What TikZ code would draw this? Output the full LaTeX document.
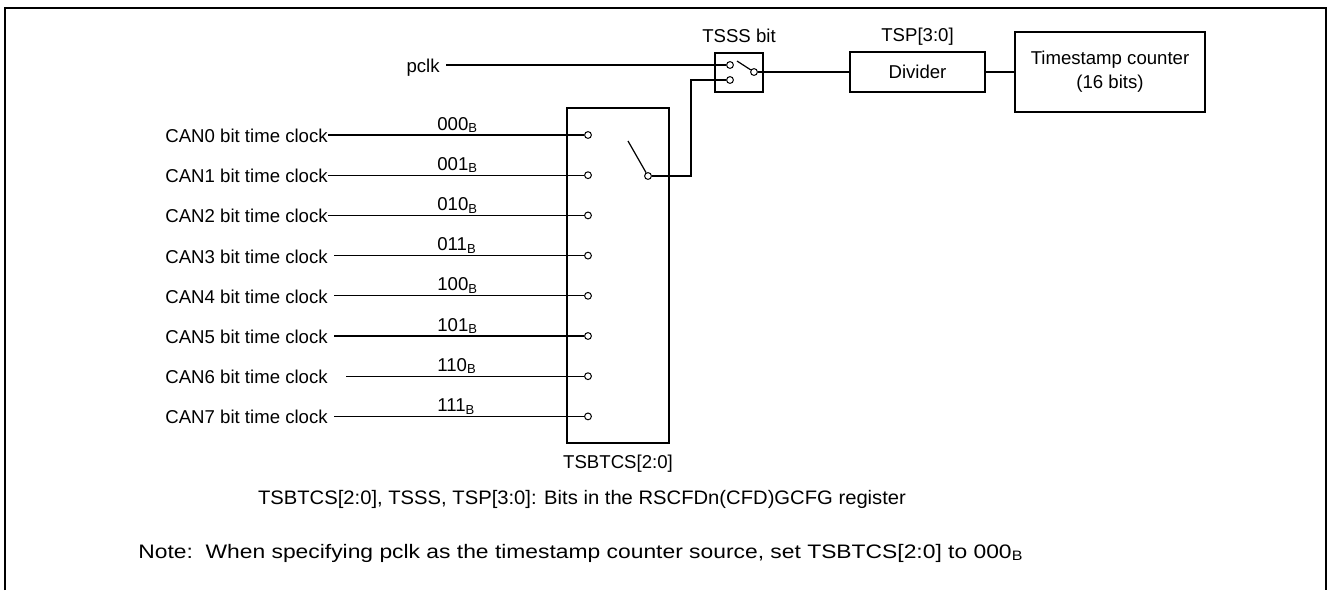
\documentclass[tikz,border=0pt]{standalone}
\usepackage{fontspec}
\setmainfont{Liberation Sans}
\usetikzlibrary{positioning}

\tikzset{
  blk/.style={draw, line width=1pt, inner sep=0pt, align=center},
  port/.style={circle, draw, line width=0.5pt, inner sep=0pt, minimum size=3.4pt, fill=white},
  wire/.style={line width=0.6pt},
  lbl/.style={inner sep=0pt},
}

\begin{document}
\begin{tikzpicture}[x=0.5pt,y=-0.5pt,font=\fontsize{9.3}{12}\selectfont]

    \useasboundingbox (0,0) rectangle (1328,590);

    % outer frame (open at the bottom)
    \draw[line width=1.3pt] (5,590) -- (5,8) -- (1326,8) -- (1326,590);

    %--------------------------------
    % blocks
    %--------------------------------
    \node[blk, minimum width=51pt, minimum height=167.5pt] (mux) at (618,275.5) {};
    \node[blk, minimum width=24pt, minimum height=19.5pt] (tsss) at (739,72.5) {};
    \node[blk, minimum width=67.5pt, minimum height=20pt] (divider) at (917.5,72) {Divider};
    \node[blk, minimum width=95pt, minimum height=40pt] (counter) at (1110,72)
        {Timestamp counter\\(16 bits)};

    \node[lbl, anchor=base] (tsssl) at ([yshift=5pt]tsss.north) {TSSS bit};
    \node[lbl, anchor=base] (tspl) at ([yshift=5pt]divider.north) {TSP[3:0]};
    \node[lbl, anchor=base] (muxl) at ([yshift=-12pt]mux.south) {TSBTCS[2:0]};

    %--------------------------------
    % inputs of the selector
    %--------------------------------
    \foreach \i/\code/\gap in {
        0/000/0,1/001/0,2/010/0,3/011/6,
        4/100/6,5/101/6,6/110/18,7/111/6}{
        \pgfmathsetmacro\ry{135+40.2*\i}
        \node[lbl, anchor=base west] (can\i) at (165,\ry+7.5) {CAN\i\ bit time clock};
        \node[port] (in\i) at (588,\ry) {};
        \draw[wire] ([xshift=\gap*0.5pt]can\i.east |- in\i) -- (in\i);
        \node[lbl, anchor=base west] (code\i) at (437,\ry-5) {\code\textsubscript{B}};
    }

    % selector lever
    \node[port] (piv) at (648,176) {};
    \coordinate (mlev) at (628,141);
    \draw[wire] (mlev) -- (piv);

    %--------------------------------
    % TSSS switch
    %--------------------------------
    \node[port] (ta) at (730,65) {};
    \node[port] (tb) at (730,80) {};
    \node[port] (tc) at (754,72) {};
    \coordinate (tlev) at (737,61);
    \draw[wire] (tlev) -- (tc);

    \node[lbl, anchor=base east] (pclk) at (440,72.5) {pclk};
    \draw[wire] ([xshift=3pt]pclk.east |- ta) -- (ta);

    \coordinate (bend) at (691,176);
    \draw[wire] (piv) -- (bend) |- (tb);

    %--------------------------------
    % divider and counter
    %--------------------------------
    \draw[wire] (tc) -- (divider);
    \draw[wire] (divider) -- (counter);

    %--------------------------------
    % notes (set in a narrow face)
    %--------------------------------
    \node[lbl, anchor=base] (note1) at (582,504)
        {\scalebox{1.087}[1.05]{TSBTCS[2:0], TSSS, TSP[3:0]: Bits in the RSCFDn(CFD)GCFG register}};
    \node[lbl, anchor=base] (note2) at (581,558)
        {\scalebox{1.228}[1.05]{Note:\ \ When specifying pclk as the timestamp counter source, set TSBTCS[2:0] to 000\textsubscript{B}}};

\end{tikzpicture}
\end{document}
